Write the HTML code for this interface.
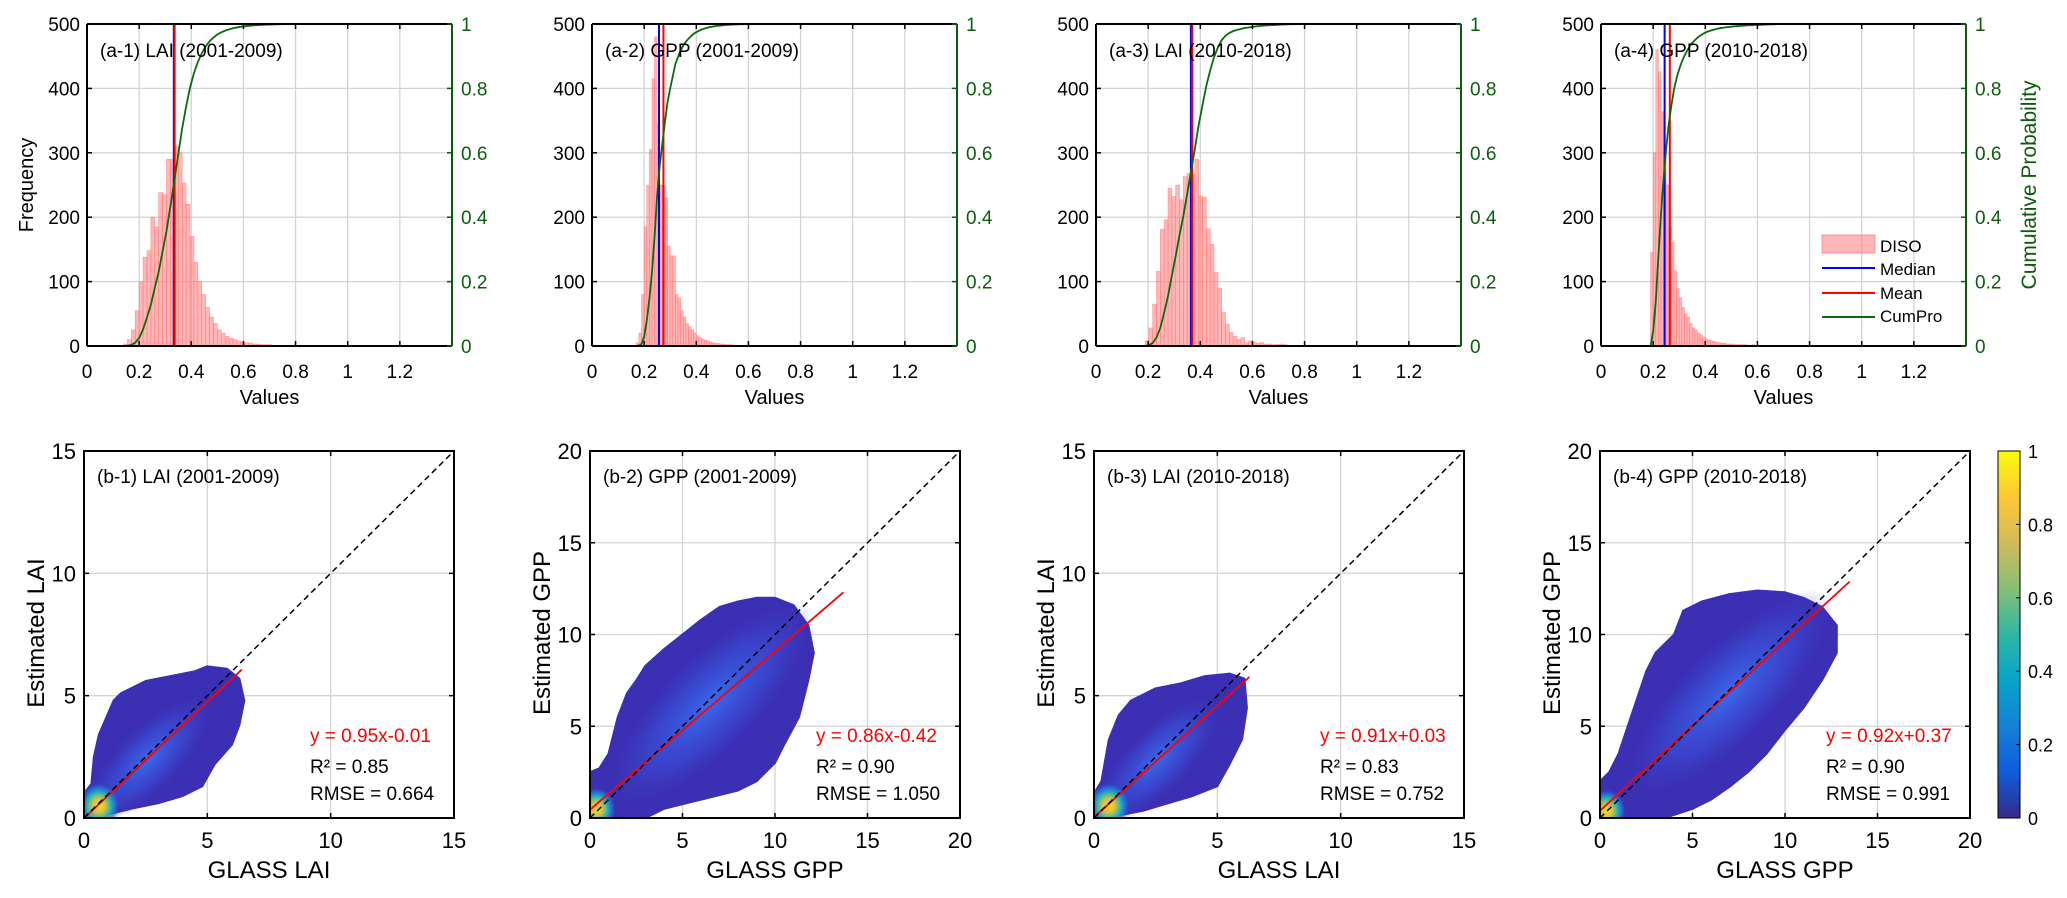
<!DOCTYPE html>
<html><head><meta charset="utf-8"><style>
html,body{margin:0;padding:0;background:#fff;}
svg{display:block;font-family:"Liberation Sans",Arial,sans-serif;}
</style></head><body>
<svg id="fig" width="2067" height="898" viewBox="0 0 2067 898" xmlns="http://www.w3.org/2000/svg">
<defs>
<linearGradient id="parula" x1="0" y1="1" x2="0" y2="0">
<stop offset="0" stop-color="#352A87"/><stop offset="0.125" stop-color="#0F5CDD"/><stop offset="0.25" stop-color="#1481D6"/><stop offset="0.375" stop-color="#06A4CA"/><stop offset="0.5" stop-color="#2EB7A4"/><stop offset="0.625" stop-color="#87BF77"/><stop offset="0.75" stop-color="#D1BB59"/><stop offset="0.875" stop-color="#FEC832"/><stop offset="1" stop-color="#F9FB0E"/>
</linearGradient>
<radialGradient id="core"><stop offset="0" stop-color="#3a6cf0" stop-opacity="0.95"/><stop offset="0.6" stop-color="#3a4fd8" stop-opacity="0.6"/><stop offset="1" stop-color="#3a3cc0" stop-opacity="0"/></radialGradient>
<radialGradient id="hot"><stop offset="0" stop-color="#f9e020"/><stop offset="0.3" stop-color="#d9c040"/><stop offset="0.55" stop-color="#30b8b0"/><stop offset="0.8" stop-color="#1a80e0" stop-opacity="0.7"/><stop offset="1" stop-color="#3a40c8" stop-opacity="0"/></radialGradient>
</defs>
</svg>
<script>
// ---------- histogram data ----------
const histStart = [0.14, 0.17, 0.188, 0.19];
const histWidth = [0.015, 0.01, 0.0147, 0.01];
const histCounts1 = [3,10,25,55,100,138,148,200,185,238,235,290,290,310,300,253,220,170,130,100,80,60,45,35,25,20,15,12,10,8,6,5,4,3,3,2,2,2,1,1,1,1,1];
const histCounts2 = [5,20,80,185,250,305,415,480,345,250,248,230,155,140,140,80,75,55,45,35,30,25,20,16,13,11,9,8,6,5,4,4,3,3,2,2,2,1,1,1,1,1,1];
const histCounts3 = [8,28,65,116,181,196,245,232,250,227,263,268,266,290,233,231,182,158,114,90,52,34,21,15,10,13,5,8,6,4,5,3,3,2,2,3,2,1,1,1,1];
const histCounts4 = [145,300,460,426,364,300,250,184,161,117,89,75,60,50,45,35,28,25,20,17,14,11,9,8,7,6,5,4,4,3,3,3,2,2,2,2,2,1,1,2,1,1,1,1,1,1,1,1,1,0,1];
const histMedian = [0.333, 0.257, 0.364, 0.244];
const histMean = [0.336, 0.274, 0.369, 0.264];
const histLabels = ["(a-1) LAI (2001-2009)","(a-2) GPP (2001-2009)","(a-3) LAI (2010-2018)","(a-4) GPP (2010-2018)"];
const xTicksTop = [0,0.2,0.4,0.6,0.8,1,1.2];
const xTickLabelsTop = ["0","0.2","0.4","0.6","0.8","1","1.2"];
const yTicksFreq = [0,100,200,300,400,500];
const yTicksProb = [0,0.2,0.4,0.6,0.8,1];
const yTickLabelsProb = ["0","0.2","0.4","0.6","0.8","1"];

// ---------- scatter data ----------
const scLabels = ["(b-1) LAI (2001-2009)","(b-2) GPP (2001-2009)","(b-3) LAI (2010-2018)","(b-4) GPP (2010-2018)"];
const scMax = [15,20,15,20];
const scTicks = [[0,5,10,15],[0,5,10,15,20],[0,5,10,15],[0,5,10,15,20]];
const fitSlope = [0.95, 0.865, 0.91, 0.925];
const fitIntercept = [-0.01, 0.45, 0.03, 0.4];
const fitXMax = [6.4, 13.7, 6.3, 13.5];
const eqText = ["y = 0.95x-0.01","y = 0.86x-0.42","y = 0.91x+0.03","y = 0.92x+0.37"];
const r2Text = ["0.85","0.90","0.83","0.90"];
const rmseText = ["0.664","1.050","0.752","0.991"];
const xTitles = ["GLASS LAI","GLASS GPP","GLASS LAI","GLASS GPP"];
const yTitles = ["Estimated LAI","Estimated GPP","Estimated LAI","Estimated GPP"];
const cloud1 = [[0,0],[0,1.0],[0.3,1.4],[0.4,2.5],[0.6,3.4],[0.9,4.1],[1.2,4.8],[1.5,5.1],[2.5,5.6],[3.5,5.8],[4.5,6.0],[5,6.2],[5.8,6.1],[6.3,5.7],[6.5,4.8],[6.3,3.8],[6,3.0],[5.3,2.2],[4.8,1.3],[4,0.9],[3,0.6],[2,0.4],[1,0.15],[0.5,0]];
const cloud2 = [[0,0],[0,2.5],[0.5,2.7],[1,3.5],[1.5,5.5],[2,6.8],[2.5,7.5],[3,8.3],[4,9.2],[5,10],[6,10.8],[7,11.5],[8,11.8],[9,12],[10,12],[11,11.6],[11.8,10.5],[12.1,9],[11.8,7.5],[11.3,5.5],[10.5,4],[10,3],[9,2],[8,1.5],[6,1],[4,0.5],[3,0]];
const cloud3 = [[0,0],[0,1.0],[0.3,1.5],[0.6,3.2],[1,4.2],[1.5,4.8],[2.5,5.3],[3.5,5.5],[4.5,5.8],[5.5,5.9],[6.1,5.7],[6.2,4.5],[6,3.2],[5.5,2.2],[5,1.3],[4,0.9],[3,0.6],[2,0.3],[1,0.1],[0.5,0]];
const cloud4 = [[0,0],[0,2],[0.5,2.5],[1,3.5],[1.5,5],[2,6.5],[2.5,8],[3,9],[4,10],[4.5,11.3],[5.5,11.8],[7,12.2],[8.5,12.4],[10,12.3],[11,12],[12,11.5],[12.8,10.5],[12.8,9],[12,7.5],[11,6],[10,4.8],[9,3.5],[8,2.5],[7,1.7],[6,1],[5,0.5],[3.5,0]];
const coreCenter = [[2.6,2.4],[6.5,6.2],[2.6,2.4],[7,6.8]];
const hotCenter = [[0.6,0.5],[0.35,0.5],[0.6,0.5],[0.35,0.4]];
const cbTicks = [0,0.2,0.4,0.6,0.8,1];
const cbTickLabels = ["0","0.2","0.4","0.6","0.8","1"];

const svg = document.getElementById('fig');
const NS = 'http://www.w3.org/2000/svg';
function mk(tag, attrs, parent, txt){
  const e = document.createElementNS(NS, tag);
  for (const k in attrs) e.setAttribute(k, attrs[k]);
  if (txt !== undefined) e.textContent = txt;
  (parent || svg).appendChild(e);
  return e;
}
const GREEN = '#0b5d0b';

// ---------- top histograms ----------
const topLefts = [87, 592, 1096, 1601];
const TT = 24, TH = 322, TW = 365, XMAXT = 1.4;
const allCounts = [histCounts1, histCounts2, histCounts3, histCounts4];
topLefts.forEach((L, p) => {
  const g = mk('g', {});
  
  
  const xs = v => L + v / XMAXT * TW;
  const yf = v => TT + TH - v / 500 * TH;
  const yp = v => TT + TH - v * TH;
  xTicksTop.forEach(t => { if (t>0) { const l = mk('line',{x1:xs(t),x2:xs(t),y1:TT,y2:TT+TH,stroke:'#d4d4d4','stroke-width':1.3},g);
      }});
  yTicksFreq.forEach(t => { if (t>0 && t<500) { const l = mk('line',{x1:L,x2:L+TW,y1:yf(t),y2:yf(t),stroke:'#d4d4d4','stroke-width':1.3},g);
      }});
  const counts = allCounts[p], s0 = histStart[p], w = histWidth[p];
  counts.forEach((c, i) => {
    if (c <= 0) return;
    const x0 = s0 + i*w;
    const r = mk('rect',{x:xs(x0),y:yf(c),width:xs(x0+w)-xs(x0),height:yf(0)-yf(c),fill:'rgba(255,110,110,0.5)',stroke:'rgba(255,120,120,0.7)','stroke-width':0.6},g);
    
    
  });
  const med = mk('line',{x1:xs(histMedian[p]),x2:xs(histMedian[p]),y1:TT,y2:TT+TH,stroke:'#0000ff','stroke-width':2},g);
   
  const mn = mk('line',{x1:xs(histMean[p]),x2:xs(histMean[p]),y1:TT,y2:TT+TH,stroke:'#ff0000','stroke-width':2},g);
   
  const total = counts.reduce((a,b)=>a+b,0);
  let cum = 0, pts = [[xs(s0), yp(0)]];
  counts.forEach((c,i) => { cum += c; pts.push([xs(s0+(i+1)*w), yp(cum/total)]); });
  pts.push([xs(1.4), yp(1)]);
  const cl = mk('polyline',{points:pts.map(q=>q.join(',')).join(' '),fill:'none',stroke:'#0b6a0b','stroke-width':1.8},g);
   
  mk('line',{x1:L,x2:L+TW,y1:TT,y2:TT,stroke:'#000','stroke-width':2},g);
  mk('line',{x1:L,x2:L+TW,y1:TT+TH,y2:TT+TH,stroke:'#000','stroke-width':2},g);
  mk('line',{x1:L,x2:L,y1:TT,y2:TT+TH,stroke:'#000','stroke-width':2},g);
  mk('line',{x1:L+TW,x2:L+TW,y1:TT,y2:TT+TH,stroke:GREEN,'stroke-width':2},g);
  xTicksTop.forEach((t,i) => {
    mk('line',{x1:xs(t),x2:xs(t),y1:TT+TH,y2:TT+TH-5,stroke:'#000','stroke-width':1.5},g);
    mk('line',{x1:xs(t),x2:xs(t),y1:TT,y2:TT+5,stroke:'#000','stroke-width':1.5},g);
    const tx = mk('text',{x:xs(t),y:378,'font-size':19,'text-anchor':'middle',fill:'#000'},g,xTickLabelsTop[i]);
     
  });
  yTicksFreq.forEach(t => {
    mk('line',{x1:L,x2:L+5,y1:yf(t),y2:yf(t),stroke:'#000','stroke-width':1.5},g);
    const tx = mk('text',{x:L-7,y:yf(t)+7,'font-size':19,'text-anchor':'end',fill:'#000'},g,String(t));
     
  });
  yTicksProb.forEach((t,i) => {
    mk('line',{x1:L+TW,x2:L+TW-5,y1:yp(t),y2:yp(t),stroke:GREEN,'stroke-width':1.5},g);
    const tx = mk('text',{x:L+TW+9,y:yp(t)+7,'font-size':19,'text-anchor':'start',fill:GREEN},g,yTickLabelsProb[i]);
     
  });
  const xt = mk('text',{x:L+TW/2,y:404,'font-size':20,'text-anchor':'middle',fill:'#000'},g,'Values');
   
  const pl = mk('text',{x:L+13,y:57,'font-size':19,fill:'#000'},g,histLabels[p]);
   
});
{
  const f = mk('text',{x:0,y:0,'font-size':20,'text-anchor':'middle',transform:'translate(33,185) rotate(-90)',fill:'#000'},svg,'Frequency');
   
  const c = mk('text',{x:0,y:0,'font-size':21,'text-anchor':'middle',transform:'translate(2036,185) rotate(-90)',fill:GREEN},svg,'Cumulative Probability');
   
  const lg = mk('g',{});
   
  mk('rect',{x:1822,y:235,width:53,height:18,fill:'rgba(255,110,110,0.5)',stroke:'rgba(255,120,120,0.7)'},lg);
  mk('text',{x:1880,y:252,'font-size':17},lg,'DISO');
  mk('line',{x1:1822,x2:1875,y1:268,y2:268,stroke:'#0000ff','stroke-width':2},lg);
  mk('text',{x:1880,y:275,'font-size':17},lg,'Median');
  mk('line',{x1:1822,x2:1875,y1:293,y2:293,stroke:'#ff0000','stroke-width':2},lg);
  mk('text',{x:1880,y:299,'font-size':17},lg,'Mean');
  mk('line',{x1:1822,x2:1875,y1:317,y2:317,stroke:'#0b6a0b','stroke-width':2},lg);
  mk('text',{x:1880,y:322,'font-size':17},lg,'CumPro');
}

// ---------- bottom scatter panels ----------
const botLefts = [84, 590, 1094, 1600];
const BT = 451, BH = 367, BW = 370;
const clouds = [cloud1, cloud2, cloud3, cloud4];
botLefts.forEach((L, p) => {
  const g = mk('g', {});
  
  
  const M = scMax[p];
  const xs = v => L + v / M * BW;
  const ys = v => BT + BH - v / M * BH;
  const clipId = 'clip' + p;
  const cp = mk('clipPath',{id:clipId},g);
  mk('rect',{x:L,y:BT,width:BW,height:BH},cp);
  scTicks[p].forEach(t => { if (t>0 && t<M) {
    mk('line',{x1:xs(t),x2:xs(t),y1:BT,y2:BT+BH,stroke:'#d4d4d4','stroke-width':1.3},g);
    mk('line',{x1:L,x2:L+BW,y1:ys(t),y2:ys(t),stroke:'#d4d4d4','stroke-width':1.3},g);
  }});
  const cg = mk('g',{'clip-path':'url(#'+clipId+')'},g);
  const cl = mk('polygon',{points:clouds[p].map(q=>xs(q[0])+','+ys(q[1])).join(' '),fill:'#3b2fb4',stroke:'#3b2fb4','stroke-width':2,'stroke-linejoin':'round'},cg);
   
  const cc = coreCenter[p];
  const ang = -45;
  const rx = (p%2? 7.5:3.4)/M*BW, ry = (p%2? 2.6:1.3)/M*BW;
  const ce = mk('ellipse',{cx:xs(cc[0]),cy:ys(cc[1]),rx:rx,ry:ry,fill:'url(#core)',transform:'rotate('+ang+' '+xs(cc[0])+' '+ys(cc[1])+')'},cg);
   
  const hc = hotCenter[p];
  const hr = (p%2? 1.05:0.85)/M*BW;
  const he = mk('ellipse',{cx:xs(hc[0]),cy:ys(hc[1]),rx:hr,ry:hr*1.1,fill:'url(#hot)'},cg);
   
  const d = mk('line',{x1:xs(0),y1:ys(0),x2:xs(M),y2:ys(M),stroke:'#000','stroke-width':1.5,'stroke-dasharray':'6,4'},g);
   
  const fl = mk('line',{x1:xs(0),y1:ys(fitIntercept[p]),x2:xs(fitXMax[p]),y2:ys(fitIntercept[p]+fitSlope[p]*fitXMax[p]),stroke:'#ff0000','stroke-width':1.8},cg);
   
  mk('rect',{x:L,y:BT,width:BW,height:BH,fill:'none',stroke:'#000','stroke-width':2},g);
  scTicks[p].forEach(t => {
    mk('line',{x1:xs(t),x2:xs(t),y1:BT+BH,y2:BT+BH-5,stroke:'#000','stroke-width':1.5},g);
    mk('line',{x1:xs(t),x2:xs(t),y1:BT,y2:BT+5,stroke:'#000','stroke-width':1.5},g);
    mk('line',{x1:L,x2:L+5,y1:ys(t),y2:ys(t),stroke:'#000','stroke-width':1.5},g);
    mk('line',{x1:L+BW,x2:L+BW-5,y1:ys(t),y2:ys(t),stroke:'#000','stroke-width':1.5},g);
    const tx = mk('text',{x:xs(t),y:848,'font-size':22,'text-anchor':'middle'},g,String(t));
     
    const ty = mk('text',{x:L-8,y:ys(t)+8,'font-size':22,'text-anchor':'end'},g,String(t));
     
  });
  const xt = mk('text',{x:L+BW/2,y:878,'font-size':24,'text-anchor':'middle'},g,xTitles[p]);
   
  const yt = mk('text',{x:0,y:0,'font-size':24,'text-anchor':'middle',transform:'translate('+(L-40)+',633) rotate(-90)'},g,yTitles[p]);
   
  const pl = mk('text',{x:L+13,y:483,'font-size':19},g,scLabels[p]);
   
  const e1 = mk('text',{x:L+226,y:742,'font-size':19,fill:'#ff0000'},g,eqText[p]);
   
  const e2 = mk('text',{x:L+226,y:773,'font-size':19},g,'R² = ' + r2Text[p]);
   
  const e3 = mk('text',{x:L+226,y:800,'font-size':19},g,'RMSE = ' + rmseText[p]);
   
});
{
  const g = mk('g',{});
   
  const cx0 = 1998, cw = 22, ct = 451, ch = 367;
  mk('rect',{x:cx0,y:ct,width:cw,height:ch,fill:'url(#parula)',stroke:'#000','stroke-width':1},g);
  cbTicks.forEach((t,i) => {
    const y = ct + ch - t*ch;
    mk('line',{x1:cx0+cw,x2:cx0+cw-4,y1:y,y2:y,stroke:'#000','stroke-width':1},g);
    const tx = mk('text',{x:cx0+cw+8,y:y+7,'font-size':18},g,cbTickLabels[i]);
     
  });
}
</script>
</body></html>
